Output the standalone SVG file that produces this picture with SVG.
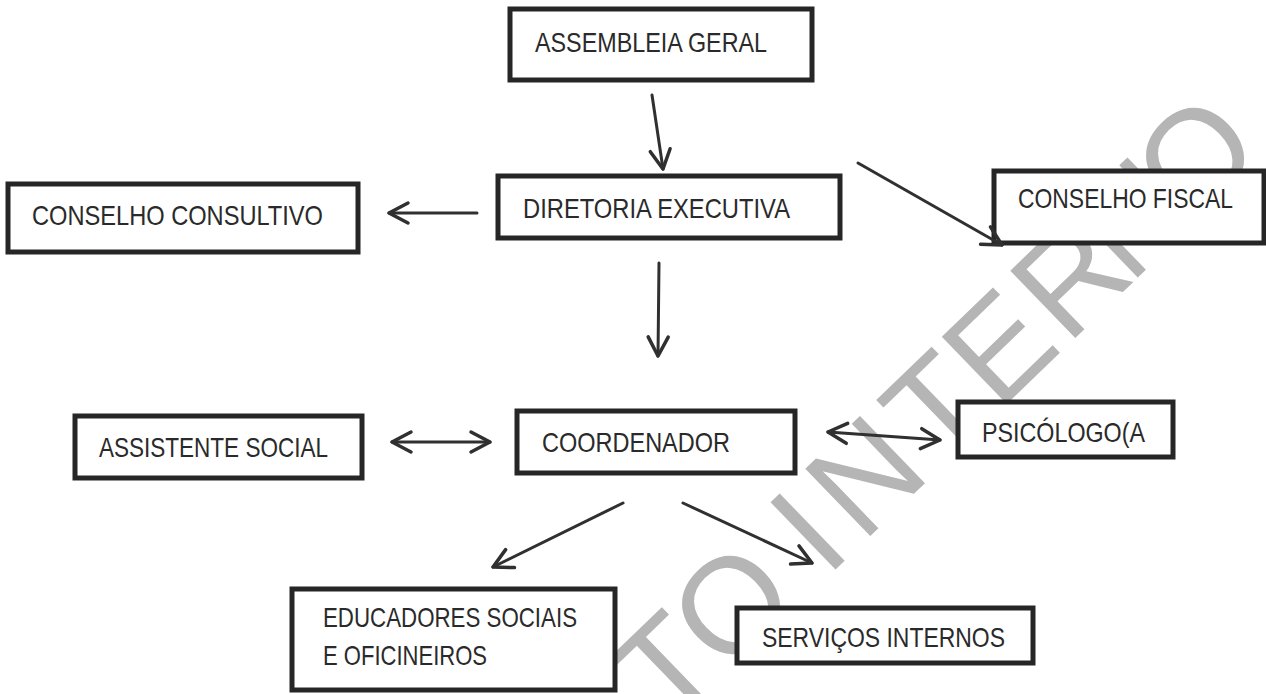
<svg xmlns="http://www.w3.org/2000/svg" width="1266" height="694" viewBox="0 0 1266 694">
  <style>
    .box { fill: #ffffff; stroke: #262626; stroke-width: 5; }
    .lbl { font-family: "Liberation Sans Narrow", "Liberation Sans", Arial, sans-serif; font-size: 28px; fill: #2a2a2a; }
    .con { stroke: #303030; stroke-width: 3; fill: none; stroke-linecap: round; }
    .wm { font-family: "Liberation Sans", Arial, sans-serif; font-size: 136px; fill: #b5b5b5; text-anchor: middle; }
  </style>
  <defs>
    <marker id="head" markerUnits="userSpaceOnUse" orient="auto-start-reverse" refX="0" refY="0" markerWidth="30" markerHeight="30" overflow="visible">
      <path d="M-19,-10 L0,0 L-19,10" fill="none" stroke="#303030" stroke-width="3.5" stroke-linecap="round" stroke-linejoin="round"/>
    </marker>
  </defs>
  <rect width="1266" height="694" fill="#ffffff"/>

  <g id="watermark">
    <text class="wm" transform="translate(665,666) rotate(-44)" x="0 90 196 276 375 462 561 648 735" y="49">TOINTERNO</text>
  </g>

  <g id="assembleia">
    <rect class="box" x="510" y="9" width="302" height="71"/>
    <text class="lbl" x="535" y="52" textLength="232" lengthAdjust="spacingAndGlyphs">ASSEMBLEIA GERAL</text>
  </g>
  <g id="diretoria">
    <rect class="box" x="498" y="176" width="342" height="62"/>
    <text class="lbl" x="523" y="218" textLength="267" lengthAdjust="spacingAndGlyphs">DIRETORIA EXECUTIVA</text>
  </g>
  <g id="consultivo">
    <rect class="box" x="8" y="184" width="350" height="68"/>
    <text class="lbl" x="32" y="225" textLength="291" lengthAdjust="spacingAndGlyphs">CONSELHO CONSULTIVO</text>
  </g>
  <g id="fiscal">
    <rect class="box" x="994" y="171" width="270" height="72"/>
    <text class="lbl" x="1018" y="208" textLength="215" lengthAdjust="spacingAndGlyphs">CONSELHO FISCAL</text>
  </g>
  <g id="assistente">
    <rect class="box" x="75" y="416" width="287" height="62"/>
    <text class="lbl" x="99" y="457" textLength="229" lengthAdjust="spacingAndGlyphs">ASSISTENTE SOCIAL</text>
  </g>
  <g id="coordenador">
    <rect class="box" x="517" y="411" width="278" height="62"/>
    <text class="lbl" x="542" y="452" textLength="188" lengthAdjust="spacingAndGlyphs">COORDENADOR</text>
  </g>
  <g id="psicologo">
    <rect class="box" x="958" y="402" width="215" height="55"/>
    <text class="lbl" x="982" y="442" textLength="163" lengthAdjust="spacingAndGlyphs">PSICÓLOGO(A</text>
  </g>
  <g id="educadores">
    <rect class="box" x="292" y="589" width="323" height="101"/>
    <text class="lbl" x="323" y="627" textLength="254" lengthAdjust="spacingAndGlyphs">EDUCADORES SOCIAIS</text>
    <text class="lbl" x="323" y="665" textLength="164" lengthAdjust="spacingAndGlyphs">E OFICINEIROS</text>
  </g>
  <g id="servicos">
    <rect class="box" x="737" y="608" width="296" height="55"/>
    <text class="lbl" x="762" y="647" textLength="243" lengthAdjust="spacingAndGlyphs">SERVIÇOS INTERNOS</text>
  </g>

  <g id="connectors">
    <line class="con" x1="652" y1="95" x2="663" y2="169" marker-end="url(#head)"/>
    <line class="con" x1="477" y1="213" x2="389" y2="213" marker-end="url(#head)"/>
    <line class="con" x1="858" y1="163" x2="1002" y2="245" marker-end="url(#head)"/>
    <line class="con" x1="659" y1="263" x2="658" y2="356" marker-end="url(#head)"/>
    <line class="con" x1="392" y1="442" x2="490" y2="442" marker-start="url(#head)" marker-end="url(#head)"/>
    <line class="con" x1="828" y1="432" x2="940" y2="440" marker-start="url(#head)" marker-end="url(#head)"/>
    <line class="con" x1="623" y1="503" x2="493" y2="567" marker-end="url(#head)"/>
    <line class="con" x1="683" y1="503" x2="812" y2="563" marker-end="url(#head)"/>
  </g>
</svg>
